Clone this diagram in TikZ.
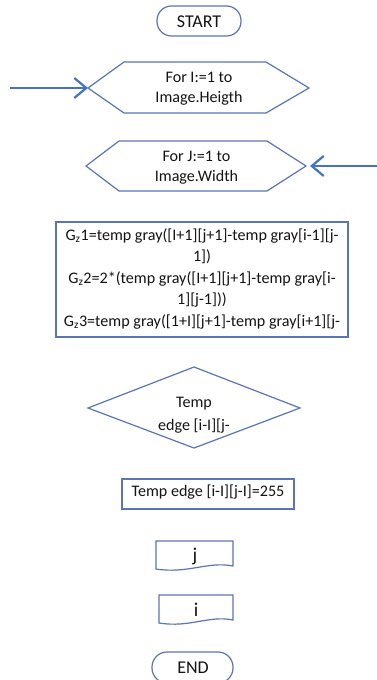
\documentclass[tikz,border=0pt]{standalone}
\usepackage{fontspec}
\setmainfont{Carlito}
\usetikzlibrary{arrows.meta}
\definecolor{shp}{RGB}{91,116,180}
\definecolor{arr}{RGB}{68,114,196}
\definecolor{txt}{RGB}{20,20,20}
\begin{document}
\begin{tikzpicture}[x=1pt,y=-1pt,
  outl/.style={draw=shp,line width=1.2pt,line join=miter},
  lbl/.style={inner sep=0pt,align=center,text=txt,font=\fontsize{16.1}{21.5}\selectfont},
  big/.style={lbl,font=\fontsize{18}{21}\selectfont},
  flow/.style={draw=arr,line width=2.2pt,-{Straight Barb[length=12pt,width=20pt,line width=2.2pt]}}]
\useasboundingbox (0,0) rectangle (377,680);
\clip (0,0) rectangle (377,680);
\fill[white] (0,0) rectangle (377,680);
% START
\draw[outl,rounded corners=14.5] (157,6) rectangle (241,36);
\node[big] (start) at (199,21.5) {START};
% hexagon 1
\coordinate (h1w) at (88,88);
\coordinate (h1e) at (309,88);
\draw[outl] (h1w) -- (124,62) -- (266,62) -- (h1e) -- (266,113) -- (124,113) -- cycle;
\node[lbl,font=\fontsize{16.1}{20}\selectfont] (h1) at (199,89) {For I:=1 to\\Image.Heigth};
\coordinate (a1) at (10,88);
\draw[flow] (a1) -- (h1w);
% hexagon 2
\coordinate (h2w) at (86,166);
\coordinate (h2e) at (306,166);
\draw[outl] (h2w) -- (119,141) -- (267,141) -- (h2e) -- (267,191) -- (119,191) -- cycle;
\node[lbl,font=\fontsize{16.1}{19.5}\selectfont] (h2) at (196.5,167.5) {For J:=1 to\\Image.Width};
\coordinate (a2) at (380,166);
\draw[flow] (a2) -- ([xshift=4pt]h2e);
% process box
\draw[outl] (56,222) rectangle (348,337);
\node[lbl] (g) at (202,278.5) {G\textsubscript{z}1=temp gray([I+1][j+1]-temp gray[i-1][j-\\1])\\G\textsubscript{z}2=2*(temp gray([I+1][j+1]-temp gray[i-\\1][j-1]))\\G\textsubscript{z}3=temp gray([1+I][j+1]-temp gray[i+1][j-};
% diamond
\draw[outl] (194,367) -- (300,408) -- (194,448) -- (88,408) -- cycle;
\node[lbl,font=\fontsize{16.1}{22.5}\selectfont] (d) at (194,415) {Temp\\edge [i-I][j-};
% assignment
\draw[outl] (122,479) rectangle (294,509);
\node[lbl] (t) at (208,492) {Temp edge [i-I][j-I]=255};
% document j
\draw[outl] (156,569) -- (156,541) -- (233,541) -- (233,566) .. controls (208,561) and (188,574) .. cycle;
\node[lbl,font=\fontsize{19.5}{22}\selectfont] (j) at (195,556.5) {j};
% document i
\draw[outl] (159,623) -- (159,595) -- (233,595) -- (233,620) .. controls (209,615) and (190,628) .. cycle;
\node[lbl,font=\fontsize{19.5}{22}\selectfont] (i) at (196,610) {i};
% END
\draw[outl,rounded corners=15] (152,652) rectangle (233,683);
\node[big] (end) at (193,668) {END};
\end{tikzpicture}
\end{document}
